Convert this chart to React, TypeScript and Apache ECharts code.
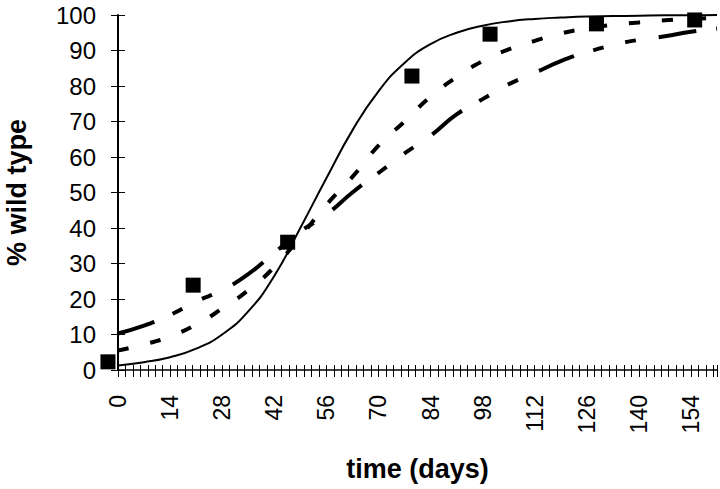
import React, { useEffect, useRef } from 'react';
import * as echarts from 'echarts';

const days = [0, 7, 14, 21, 28, 35, 42, 49, 56, 63, 70, 77, 84, 91, 98, 105, 112, 119, 126, 133, 140, 147, 154, 161];
const solidFit = [1.3, 2.2, 3.6, 6.0, 10.0, 16.5, 26.5, 40, 54, 67.5, 78.5, 86.5, 91.8, 95, 97, 98.2, 98.9, 99.3, 99.6, 99.7, 99.8, 99.9, 99.9, 100];
const shortDashFit = [5.5, 7.2, 9.5, 12.8, 17.3, 22.5, 29, 37.5, 46.5, 54.4, 63.2, 70, 77, 82.5, 87, 90.3, 92.7, 94.8, 96.2, 97.2, 97.9, 98.5, 98.9, 99.2];
const longDashFit = [10.3, 12.5, 15.5, 19.3, 22.5, 27, 33, 39, 43.8, 50, 55.5, 61, 66, 72, 76.3, 80.5, 83.7, 87, 89.5, 91.5, 93, 94, 95.3, 96.2];

// Observed data (squares)
const obsDays = [-2.7, 20.2, 45.6, 79, 100, 128.6, 155];
const obsValues = [2.3, 23.9, 36, 82.8, 94.6, 97.5, 98.6];

const xMin = 0;
const xMax = 161;
const xTickStep = 2;
const xLabelStep = 14;
const yMin = 0;
const yMax = 100;
const yTickStep = 10;

const FONT = '"Liberation Sans", Arial, Helvetica, sans-serif';

export default function App() {
  const ref = useRef<HTMLDivElement>(null);
  useEffect(() => {
    document.body.style.margin = '0';
    if (!ref.current) return;
    const chart = echarts.init(ref.current, null, { renderer: 'svg' });
    const pairs = (xs: number[], ys: number[]) => xs.map((x, i) => [x, ys[i]]);
    const baseX = {
      type: 'value' as const,
      min: xMin,
      max: xMax,
      interval: xTickStep,
      position: 'bottom' as const,
      splitLine: { show: false },
    };
    const baseY = {
      type: 'value' as const,
      min: yMin,
      max: yMax,
      interval: yTickStep,
      position: 'left' as const,
      splitLine: { show: false },
    };
    chart.setOption({
      animation: false,
      backgroundColor: '#fff',
      grid: { left: 118, right: 3, top: 15, bottom: 119, containLabel: false, outerBoundsMode: 'none' },
      xAxis: [
        {
          ...baseX,
          axisLine: { show: true, lineStyle: { color: '#000', width: 1.5 } },
          axisTick: { show: true, inside: true, length: 5, lineStyle: { color: '#000', width: 1 } },
          axisLabel: {
            rotate: 90,
            margin: 25,
            fontSize: 23,
            color: '#000',
            fontFamily: FONT,
            formatter: (v: number) => (v % xLabelStep === 0 ? String(v) : ''),
          },
          name: 'time (days)',
          nameLocation: 'middle',
          nameGap: 85,
          nameTextStyle: { fontSize: 27, fontWeight: 'bold', color: '#000', fontFamily: FONT },
        },
        {
          ...baseX,
          axisLine: { show: false },
          axisTick: { show: true, inside: false, length: 7, lineStyle: { color: '#000', width: 1 } },
          axisLabel: { show: false },
        },
      ],
      yAxis: [
        {
          ...baseY,
          axisLine: { show: true, lineStyle: { color: '#000', width: 2 } },
          axisTick: { show: true, inside: false, length: 7, lineStyle: { color: '#000', width: 1 } },
          axisLabel: { margin: 22, fontSize: 24, color: '#000', fontFamily: FONT },
          name: '% wild type',
          nameLocation: 'middle',
          nameRotate: 90,
          nameGap: 88,
          nameTextStyle: { fontSize: 27, fontWeight: 'bold', color: '#000', fontFamily: FONT },
        },
        {
          ...baseY,
          axisLine: { show: false },
          axisTick: { show: true, inside: true, length: 7, lineStyle: { color: '#000', width: 1 } },
          axisLabel: { show: false },
        },
      ],
      series: [
        {
          type: 'line',
          xAxisIndex: 0,
          yAxisIndex: 0,
          data: pairs(days, solidFit),
          smooth: true,
          showSymbol: false,
          symbol: 'none',
          lineStyle: { color: '#000', width: 2, type: 'solid' },
        },
        {
          type: 'line',
          xAxisIndex: 0,
          yAxisIndex: 0,
          data: pairs(days, shortDashFit),
          smooth: true,
          showSymbol: false,
          symbol: 'none',
          lineStyle: { color: '#000', width: 4, type: [11, 22], cap: 'butt' },
        },
        {
          type: 'line',
          xAxisIndex: 0,
          yAxisIndex: 0,
          data: pairs(days, longDashFit),
          smooth: true,
          showSymbol: false,
          symbol: 'none',
          lineStyle: { color: '#000', width: 4, type: [38, 20, 11, 22, 11, 23], cap: 'butt' },
        },
        {
          type: 'scatter',
          xAxisIndex: 0,
          yAxisIndex: 0,
          data: pairs(obsDays, obsValues),
          symbol: 'rect',
          symbolSize: 15,
          clip: false,
          itemStyle: { color: '#000', opacity: 1 },
          z: 5,
        },
      ],
    });
    return () => chart.dispose();
  }, []);
  return <div ref={ref} style={{ position: 'fixed', left: 0, top: 0, width: 720, height: 489, background: '#fff' }} />;
}
